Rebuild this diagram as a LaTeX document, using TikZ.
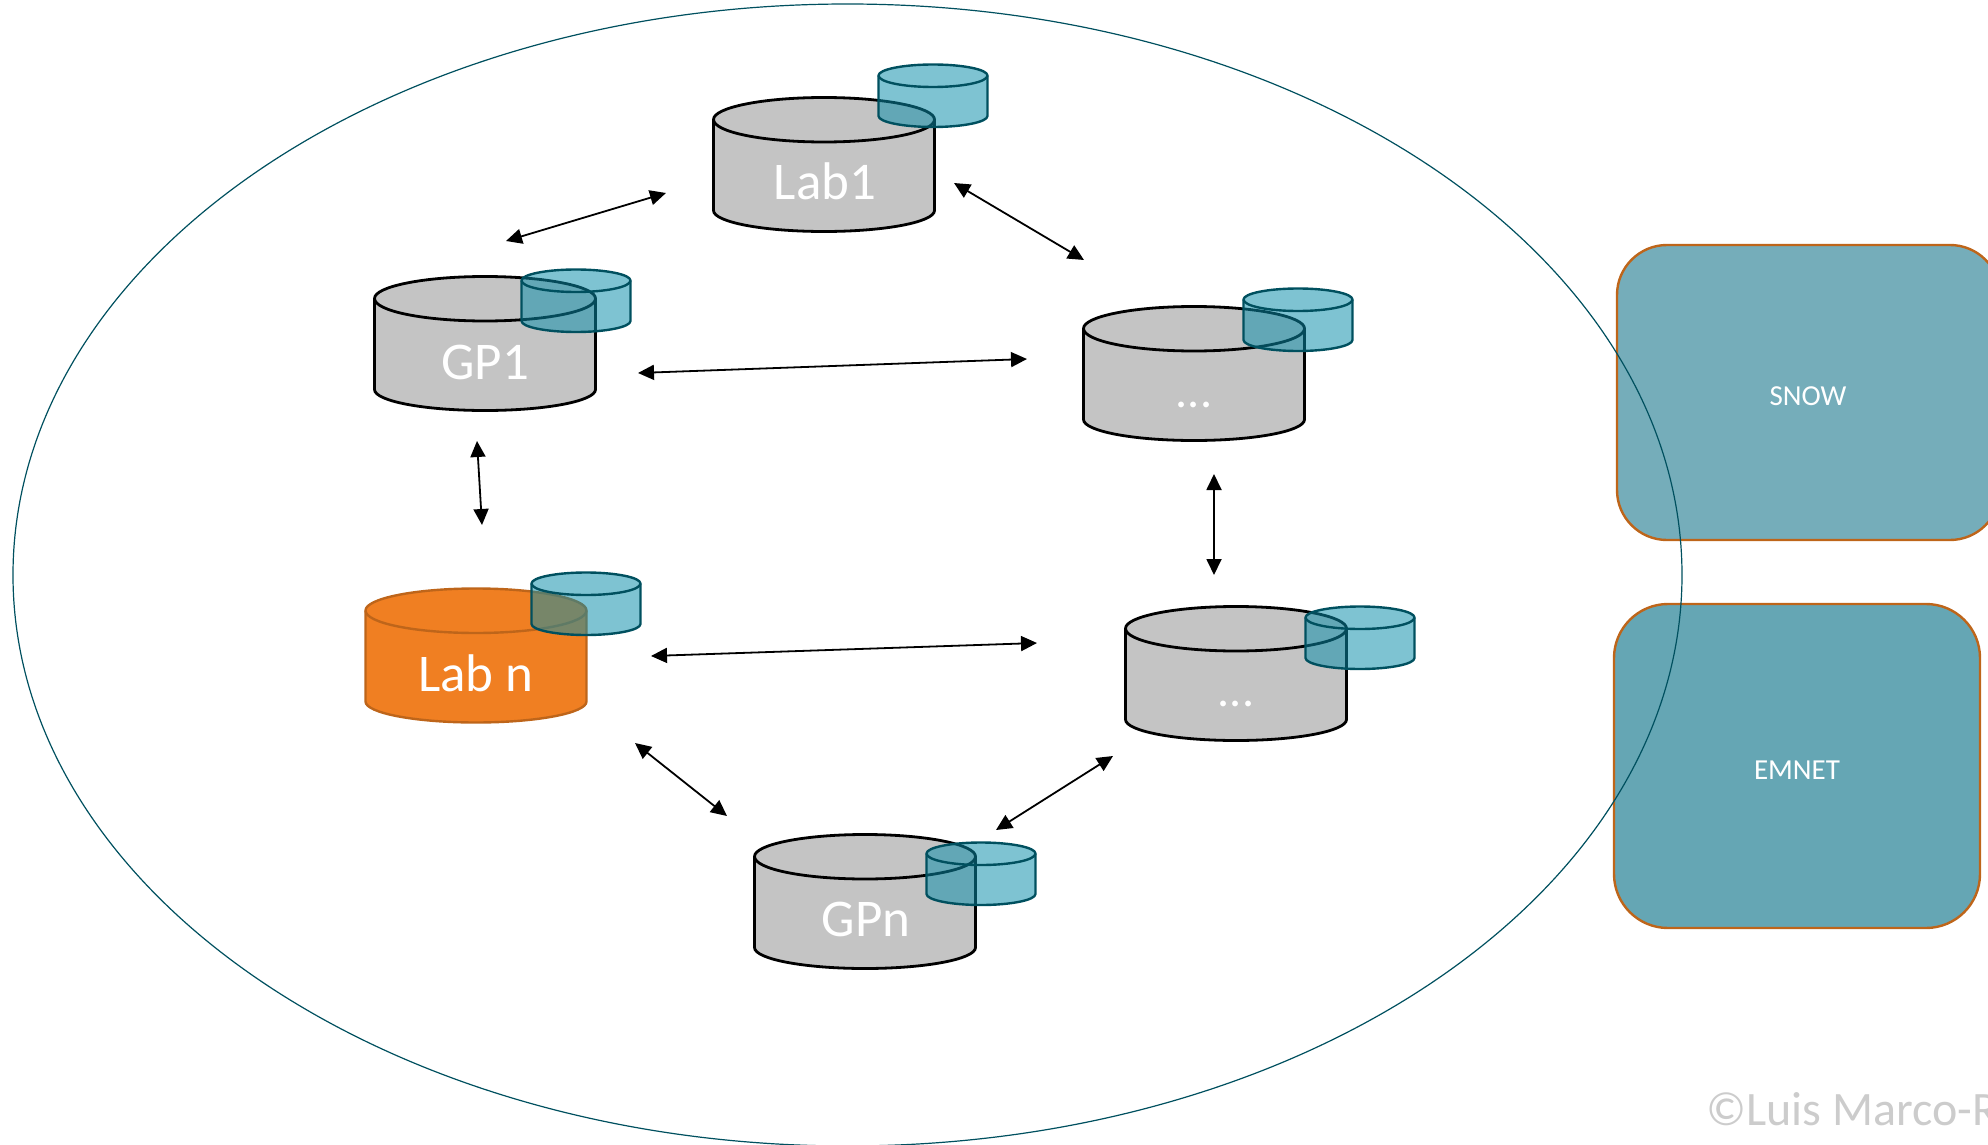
\documentclass[tikz,border=0pt]{standalone}
\usepackage{fontspec}
\setmainfont{Carlito}
\usetikzlibrary{arrows.meta,shapes.geometric}
\definecolor{cylgray}{HTML}{C4C4C4}
\definecolor{laborange}{HTML}{F07F22}
\definecolor{laborangedk}{HTML}{BE651A}
\definecolor{smallfill}{RGB}{10,141,170}
\definecolor{tealdk}{HTML}{00505F}
\definecolor{snowfill}{HTML}{75ADBA}
\definecolor{emnetfill}{HTML}{65A6B4}
\definecolor{wm}{HTML}{CCCCCC}
\tikzset{
  graycyl/.style={draw=black,line width=1.4pt,fill=cylgray,line join=round},
  orangecyl/.style={draw=laborangedk,line width=1.2pt,fill=laborange,line join=round},
  smallcyl/.style={draw=tealdk,line width=1.2pt,fill=smallfill,fill opacity=.525,line join=round},
  cyllabel/.style={text=white,font=\fontsize{26.5}{30}\selectfont,inner sep=0pt},
  dots/.style={text=white,font=\fontsize{24}{28}\selectfont,inner sep=0pt},
  boxlabel/.style={text=white,font=\fontsize{14.5}{17}\selectfont,inner sep=0pt},
  biarrow/.style={draw=black,line width=.9pt,{Triangle[length=8pt,width=7.5pt]}-{Triangle[length=8pt,width=7.5pt]}},
  panel/.style={draw=laborangedk,line width=1.2pt,rounded corners=#1},
  boundary/.style={draw=tealdk,line width=.6pt}
}
\newcommand{\bigcyl}[3]{%
  \begin{scope}[shift={(#1,#2)}]
    \path[#3] (.5,22.5) -- (.5,113.5) .. controls (.5,125) and (50,134.5) .. (111,134.5)
      .. controls (172,134.5) and (221.5,125) .. (221.5,113.5) -- (221.5,22.5)
      .. controls (221.5,10.5) and (172,.5) .. (111,.5)
      .. controls (50,.5) and (.5,10.5) .. (.5,22.5) -- cycle;
    \path[#3,fill=none] (.5,22.5) .. controls (.5,35) and (50,45) .. (111,45)
      .. controls (172,45) and (221.5,35) .. (221.5,22.5);
  \end{scope}}
\newcommand{\smallcylinder}[2]{%
  \begin{scope}[shift={(#1,#2)}]
    \path[smallcyl] (.5,11.5) -- (.5,52) .. controls (.5,58) and (25,63) .. (55,63)
      .. controls (85,63) and (109.5,58) .. (109.5,52) -- (109.5,11.5)
      .. controls (109.5,5.5) and (85,.5) .. (55,.5)
      .. controls (25,.5) and (.5,5.5) .. (.5,11.5) -- cycle;
    \path[smallcyl,fill=none] (.5,11.5) .. controls (.5,18) and (25,23) .. (55,23)
      .. controls (85,23) and (109.5,18) .. (109.5,11.5);
  \end{scope}}
\begin{document}
\begin{tikzpicture}[x=.5pt,y=-.5pt]
\useasboundingbox (0,0) rectangle (1988,1145);
\clip (0,0) rectangle (1988,1145);
% cylinders
\bigcyl{713}{97}{graycyl}\smallcylinder{878}{64}
\bigcyl{374}{276}{graycyl}\smallcylinder{521}{269}
\bigcyl{1083}{306}{graycyl}\smallcylinder{1243}{288}
\bigcyl{365}{588}{orangecyl}\smallcylinder{531}{572}
\bigcyl{1125}{606}{graycyl}\smallcylinder{1305}{606}
\bigcyl{754}{834}{graycyl}\smallcylinder{926}{842}
% labels
\node[cyllabel] (lab1) at (825,181) {Lab1};
\node[cyllabel] (gp1) at (485,362) {GP1};
\node[dots] (dotsa) at (1194,405) {...};
\node[cyllabel] (labn) at (476,673) {Lab n};
\node[dots] (dotsb) at (1236,704) {...};
\node[cyllabel] (gpn) at (866,919) {GPn};
% panels
\path[panel=25pt,fill=snowfill] (1617,245) rectangle (2000,540);
\path[panel=27pt,fill=emnetfill] (1614,604) rectangle (1980,928);
\node[boxlabel] (snow) at (1808,396) {SNOW};
\node[boxlabel] (emnet) at (1797,770) {EMNET};
% boundary ellipse
\node[boundary,shape=ellipse,minimum width=834.5pt,minimum height=571pt,inner sep=0pt] (domain) at (847.5,575) {};
% arrow ends
\coordinate (a1) at (506,241); \coordinate (a2) at (666,193);
\coordinate (b1) at (954,183); \coordinate (b2) at (1084,260);
\coordinate (c1) at (638,373); \coordinate (c2) at (1027,359);
\coordinate (d1) at (477,441); \coordinate (d2) at (482,525);
\coordinate (e1) at (1214,474); \coordinate (e2) at (1214,575);
\coordinate (f1) at (651,656); \coordinate (f2) at (1037,643);
\coordinate (g1) at (635,743); \coordinate (g2) at (727,816);
\coordinate (h1) at (1113,756); \coordinate (h2) at (996,830);
\draw[biarrow] (a1) -- (a2);
\draw[biarrow] (b1) -- (b2);
\draw[biarrow] (c1) -- (c2);
\draw[biarrow] (d1) -- (d2);
\draw[biarrow] (e1) -- (e2);
\draw[biarrow] (f1) -- (f2);
\draw[biarrow] (g1) -- (g2);
\draw[biarrow] (h1) -- (h2);
% watermark
\node[anchor=base west,text=wm,font=\fontsize{24}{28}\selectfont,inner sep=0pt] (mark) at (1706,1125) {©Luis Marco-R};
\end{tikzpicture}
\end{document}
